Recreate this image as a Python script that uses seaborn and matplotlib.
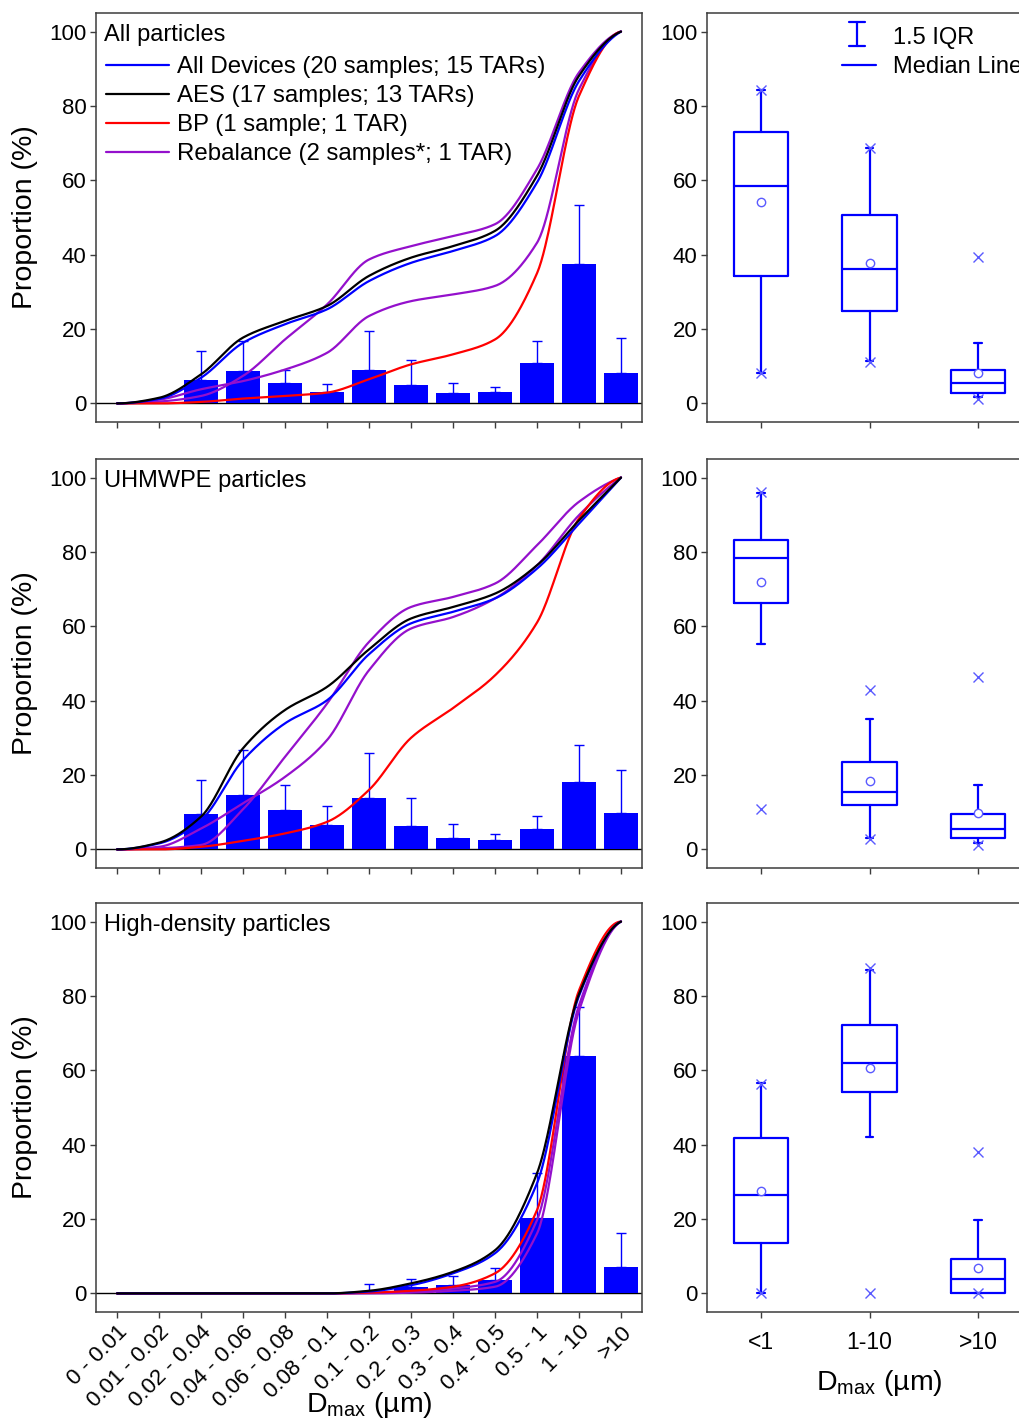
import numpy as np
import pandas as pd
import matplotlib
matplotlib.use('Agg')
import matplotlib.pyplot as plt
import seaborn as sns

# size classes (left panels) and grouped classes (right panels)
size_bins = ['0 - 0.01', '0.01 - 0.02', '0.02 - 0.04', '0.04 - 0.06', '0.06 - 0.08',
             '0.08 - 0.1', '0.1 - 0.2', '0.2 - 0.3', '0.3 - 0.4', '0.4 - 0.5',
             '0.5 - 1', '1 - 10', '>10']
box_groups = ['<1', '1-10', '>10']

series_labels = ['All Devices (20 samples; 15 TARs)', 'AES (17 samples; 13 TARs)',
                 'BP (1 sample; 1 TAR)', 'Rebalance (2 samples*; 1 TAR)']

# --- All particles ---
all_mean = [0, 0, 6.3, 8.7, 5.5, 3.1, 9.0, 4.9, 2.9, 3.0, 11.0, 37.5, 8.3]
all_upper = [0, 0, 14.1, 16.8, 9.1, 5.1, 19.5, 11.6, 5.6, 4.5, 16.7, 53.3, 17.5]
all_cum_devices = [0, 1.2, 6.9, 16.3, 21.3, 25.3, 32.9, 37.8, 41.0, 45.0, 59.4, 86.7, 100]
all_cum_aes = [0, 1.5, 7.8, 17.7, 22.2, 26.2, 34.3, 39.2, 42.3, 46.4, 61.2, 88.1, 100]
all_cum_bp = [0, 0, 0.4, 1.3, 2.0, 2.9, 6.5, 10.5, 13.2, 17.2, 35.0, 82.7, 100]
all_cum_reb1 = [0, 0.5, 2.0, 7.4, 17.2, 26.6, 38.7, 42.3, 45.0, 48.2, 63.0, 89.0, 100]
all_cum_reb2 = [0, 1.0, 3.8, 6.0, 9.1, 13.6, 23.5, 27.5, 29.3, 31.6, 43.2, 84.5, 100]

all_whislo = [8.1, 11.4, 1.7]
all_q1 = [34.3, 24.8, 2.9]
all_med = [58.5, 36.1, 5.4]
all_q3 = [73.0, 50.7, 8.9]
all_whishi = [84.2, 68.8, 16.3]
all_avg = [54.2, 37.7, 8.3]
all_min = [8.1, 11.1, 1.3]
all_max = [84.2, 68.8, 39.4]

# --- UHMWPE particles ---
uh_mean = [0, 0, 9.4, 14.6, 10.5, 6.5, 13.9, 6.4, 3.0, 2.4, 5.4, 18.2, 9.9]
uh_upper = [0, 0, 18.6, 26.8, 17.3, 11.6, 25.8, 13.9, 6.7, 4.2, 9.0, 28.2, 21.3]
uh_cum_devices = [0, 1.6, 7.9, 24.0, 33.9, 40.1, 52.5, 60.8, 63.9, 67.5, 75.5, 87.6, 100]
uh_cum_aes = [0, 1.8, 8.8, 27.2, 37.5, 43.7, 53.8, 62.1, 65.2, 68.8, 76.4, 88.5, 100]
uh_cum_bp = [0, 0, 0.7, 2.3, 4.3, 7.4, 16.0, 30.0, 38.0, 46.8, 61.0, 89.0, 100]
uh_cum_reb1 = [0, 0.3, 1.2, 10.8, 24.9, 39.2, 55.8, 65.2, 67.9, 71.5, 81.8, 93.5, 100]
uh_cum_reb2 = [0, 0.7, 5.6, 12.4, 19.5, 29.4, 48.2, 59.4, 62.5, 67.5, 76.4, 89.9, 100]

uh_whislo = [55.2, 3.0, 1.8]
uh_q1 = [66.2, 11.9, 3.0]
uh_med = [78.5, 15.5, 5.6]
uh_q3 = [83.2, 23.6, 9.6]
uh_whishi = [95.9, 35.2, 17.2]
uh_avg = [72.0, 18.3, 9.9]
uh_min = [10.8, 2.7, 1.3]
uh_max = [96.1, 42.8, 46.4]

# --- High-density particles ---
hd_mean = [0, 0, 0, 0, 0, 0, 0.3, 1.6, 2.2, 3.6, 20.3, 63.8, 7.0]
hd_upper = [0, 0, 0, 0, 0, 0, 2.5, 4.0, 4.7, 6.7, 32.3, 77.1, 16.3]
hd_cum_devices = [0, 0, 0, 0, 0, 0, 0.5, 2.2, 5.4, 10.8, 29.6, 80.0, 100]
hd_cum_aes = [0, 0, 0, 0, 0, 0, 0.7, 2.7, 5.8, 11.6, 32.3, 80.5, 100]
hd_cum_bp = [0, 0, 0, 0, 0, 0, 0.2, 0.7, 1.8, 5.4, 22.4, 81.5, 100]
hd_cum_reb1 = [0, 0, 0, 0, 0, 0, 0.1, 0.4, 1.3, 3.1, 19.7, 77.5, 100]
hd_cum_reb2 = [0, 0, 0, 0, 0, 0, 0, 0.2, 0.7, 1.8, 16.1, 76.0, 100]

hd_whislo = [0.0, 42.2, 0.0]
hd_q1 = [13.6, 54.2, 0.0]
hd_med = [26.4, 61.9, 4.0]
hd_q3 = [41.8, 72.2, 9.3]
hd_whishi = [56.5, 87.1, 19.7]
hd_avg = [27.5, 60.6, 6.8]
hd_min = [0.0, 0.0, 0.0]
hd_max = [56.2, 87.5, 37.9]

BLUE = '#0000ff'
PURPLE = '#9410cc'
MARK = '#5a5aff'
SPINE = '#3c3c3c'


def smooth_curve(y, n=500):
    # monotone cubic (pchip) through the cumulative points
    y = np.asarray(y, dtype=float)
    d = np.diff(y)
    m = np.zeros_like(y)
    for k in range(1, len(y) - 1):
        if d[k - 1] * d[k] > 0:
            m[k] = 2.0 / (1.0 / d[k - 1] + 1.0 / d[k])

    def end_slope(d0, d1):
        s = (3 * d0 - d1) / 2
        if np.sign(s) != np.sign(d0):
            return 0.0
        if np.sign(d0) != np.sign(d1) and abs(s) > abs(3 * d0):
            return 3 * d0
        return s

    m[0] = end_slope(d[0], d[1])
    m[-1] = end_slope(d[-1], d[-2])
    xs = np.linspace(0, len(y) - 1, n)
    idx = np.clip(np.floor(xs).astype(int), 0, len(y) - 2)
    t = xs - idx
    h00 = 2 * t**3 - 3 * t**2 + 1
    h10 = t**3 - 2 * t**2 + t
    h01 = -2 * t**3 + 3 * t**2
    h11 = t**3 - t**2
    ys = h00 * y[idx] + h10 * m[idx] + h01 * y[idx + 1] + h11 * m[idx + 1]
    return xs, ys


def style_axes(ax):
    for sp in ax.spines.values():
        sp.set_visible(True)
        sp.set_color(SPINE)
        sp.set_linewidth(1.1)
    ax.tick_params(direction='out', length=4, width=1, color=SPINE,
                   labelcolor='black', labelsize=16, pad=3)
    ax.set_ylim(-5, 105)
    ax.set_yticks([0, 20, 40, 60, 80, 100])


def draw_left(ax, title, mean, upper, curves, bottom, legend=False):
    df = pd.DataFrame({'bin': size_bins, 'pct': mean})
    sns.barplot(data=df, x='bin', y='pct', color=BLUE, saturation=1, width=0.8,
                errorbar=None, linewidth=0, zorder=2, ax=ax)
    mean = np.asarray(mean)
    upper = np.asarray(upper)
    x = np.arange(len(size_bins))
    mask = mean > 0
    ax.errorbar(x[mask], mean[mask], yerr=[np.zeros(mask.sum()), upper[mask] - mean[mask]],
                fmt='none', ecolor=BLUE, elinewidth=1, capsize=3.5, capthick=1, zorder=3)
    ax.axhline(0, color='black', lw=1, zorder=1.5)

    devices, aes, bp, reb1, reb2 = curves
    handles = {}
    for y, color, key in [(reb2, PURPLE, 'reb'), (reb1, PURPLE, 'reb'),
                          (bp, 'red', 'bp'), (devices, BLUE, 'dev'), (aes, 'black', 'aes')]:
        xs, ys = smooth_curve(y)
        line, = ax.plot(xs, ys, color=color, lw=1.6, zorder=4)
        handles[key] = line

    style_axes(ax)
    ax.set_xlim(-0.5, 12.5)
    ax.set_xticks(x)
    ax.set_xlabel('')
    ax.set_ylabel('Proportion (%)', fontsize=20.5, labelpad=8)
    ax.text(0.014, 0.953, title, transform=ax.transAxes, fontsize=17,
            va='center_baseline')
    if legend:
        ax.legend([handles['dev'], handles['aes'], handles['bp'], handles['reb']],
                  series_labels, loc='upper left', bbox_to_anchor=(0.006, 0.912),
                  frameon=False, fontsize=17.3, handlelength=2.6, handletextpad=0.35,
                  labelspacing=0.29, borderaxespad=0, borderpad=0.3)
    if bottom:
        ax.set_xticklabels(size_bins, rotation=45, ha='right', va='top',
                           rotation_mode='anchor', fontsize=16)
        ax.set_xlabel('D$_{\\mathrm{max}}$ (µm)', fontsize=20.5)
        ax.xaxis.label.set_va('center')
        ax.xaxis.set_label_coords(0.5, -0.227)
    else:
        ax.set_xticklabels([])


def draw_right(ax, whislo, q1, med, q3, whishi, avg, vmin, vmax, bottom, legend=False):
    stats = []
    for i in range(len(box_groups)):
        stats.append(dict(whislo=whislo[i], q1=q1[i], med=med[i], q3=q3[i],
                          whishi=whishi[i], mean=avg[i], fliers=[vmin[i], vmax[i]]))
    lp = dict(color=BLUE, lw=1.6)
    ax.bxp(stats, positions=[0, 1, 2], widths=0.5, showmeans=True, capwidths=0.07,
           boxprops=lp, whiskerprops=lp, capprops=lp, medianprops=lp,
           meanprops=dict(marker='o', mfc='white', mec=MARK, ms=6, mew=1),
           flierprops=dict(marker='x', mec=MARK, ms=7, mew=1, linestyle='none'))
    style_axes(ax)
    ax.set_xlim(-0.5, 2.5)
    ax.set_xticks([0, 1, 2])
    if bottom:
        ax.set_xticklabels(box_groups, fontsize=16.5)
        ax.tick_params(axis='x', pad=10)
        ax.set_xlabel('D$_{\\mathrm{max}}$ (µm)', fontsize=20.5)
        ax.xaxis.label.set_va('center')
        ax.xaxis.set_label_coords(0.53, -0.174)
    else:
        ax.set_xticklabels([])
    if legend:
        tr = ax.transAxes
        ax.plot([0.4615, 0.4615], [0.919, 0.978], color=BLUE, lw=1.6, transform=tr)
        for yy in (0.919, 0.978):
            ax.plot([0.437, 0.486], [yy, yy], color=BLUE, lw=1.6, transform=tr)
        ax.plot([0.415, 0.52], [0.873, 0.873], color=BLUE, lw=1.6, transform=tr)
        ax.text(0.572, 0.946, '1.5 IQR', transform=tr, fontsize=17,
                va='center_baseline')
        ax.text(0.572, 0.873, 'Median Line', transform=tr, fontsize=17,
                va='center_baseline', clip_on=False)


sns.set_style('ticks')
plt.rcParams['font.family'] = ['Liberation Sans', 'DejaVu Sans']
plt.rcParams['mathtext.fontset'] = 'custom'
plt.rcParams['mathtext.rm'] = 'Liberation Sans'
plt.rcParams['mathtext.it'] = 'Liberation Sans:italic'
plt.rcParams['text.color'] = 'black'
plt.rcParams['axes.labelcolor'] = 'black'

W, H = 1019, 1422
fig = plt.figure(figsize=(W / 100, H / 100), dpi=100)

rows = [
    ('All particles', all_mean, all_upper,
     (all_cum_devices, all_cum_aes, all_cum_bp, all_cum_reb1, all_cum_reb2),
     (all_whislo, all_q1, all_med, all_q3, all_whishi, all_avg, all_min, all_max)),
    ('UHMWPE particles', uh_mean, uh_upper,
     (uh_cum_devices, uh_cum_aes, uh_cum_bp, uh_cum_reb1, uh_cum_reb2),
     (uh_whislo, uh_q1, uh_med, uh_q3, uh_whishi, uh_avg, uh_min, uh_max)),
    ('High-density particles', hd_mean, hd_upper,
     (hd_cum_devices, hd_cum_aes, hd_cum_bp, hd_cum_reb1, hd_cum_reb2),
     (hd_whislo, hd_q1, hd_med, hd_q3, hd_whishi, hd_avg, hd_min, hd_max)),
]
row_tops = [13, 459, 903]
ax_h = 409

for r, (title, mean, upper, curves, box) in enumerate(rows):
    top = row_tops[r]
    bottom_frac = 1 - (top + ax_h) / H
    axl = fig.add_axes([96 / W, bottom_frac, 546 / W, ax_h / H])
    axr = fig.add_axes([707 / W, bottom_frac, 325 / W, ax_h / H])
    last = r == len(rows) - 1
    draw_left(axl, title, mean, upper, curves, last, legend=(r == 0))
    draw_right(axr, *box, bottom=last, legend=(r == 0))

fig.savefig('out.png', dpi=100)
plt.close(fig)
